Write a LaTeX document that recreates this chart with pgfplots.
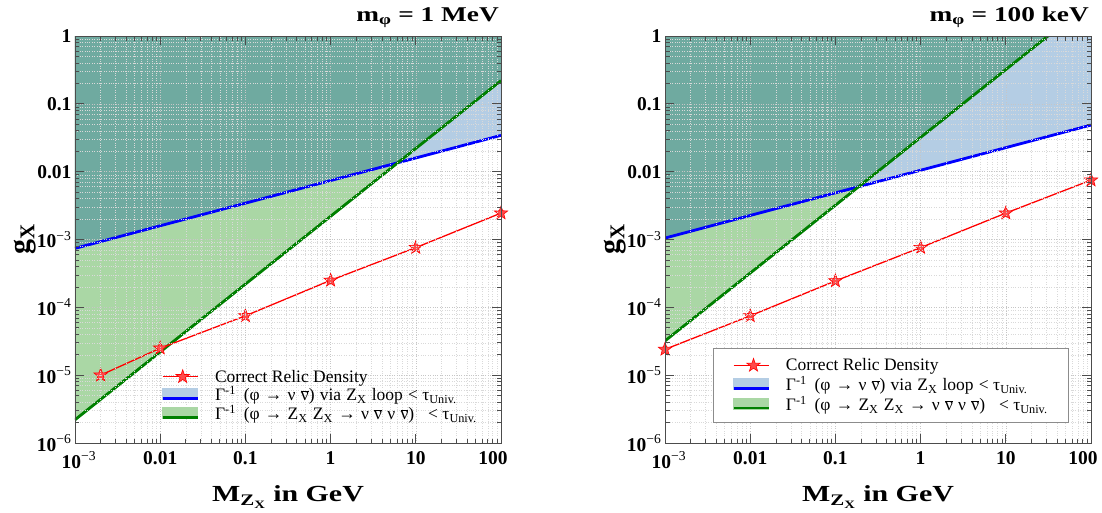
\documentclass[border=0pt]{standalone}
\usepackage{fontspec}
\setmainfont{Liberation Serif}
\newfontfamily\widefont[FakeStretch=1.3]{Liberation Serif}
\usepackage{pgfplots}
\pgfplotsset{compat=1.18}
\definecolor{lblue}{RGB}{180,205,228}
\definecolor{lgreen}{RGB}{170,215,165}
\definecolor{tealx}{RGB}{111,170,160}
\definecolor{dgreen}{RGB}{0,128,0}
\pgfdeclareplotmark{fstar}{%
  \pgfpathmoveto{\pgfpointpolar{90}{\pgfplotmarksize}}%
  \pgfpathlineto{\pgfpointpolar{126}{0.42\pgfplotmarksize}}%
  \pgfpathlineto{\pgfpointpolar{162}{\pgfplotmarksize}}%
  \pgfpathlineto{\pgfpointpolar{198}{0.42\pgfplotmarksize}}%
  \pgfpathlineto{\pgfpointpolar{234}{\pgfplotmarksize}}%
  \pgfpathlineto{\pgfpointpolar{270}{0.42\pgfplotmarksize}}%
  \pgfpathlineto{\pgfpointpolar{306}{\pgfplotmarksize}}%
  \pgfpathlineto{\pgfpointpolar{342}{0.42\pgfplotmarksize}}%
  \pgfpathlineto{\pgfpointpolar{18}{\pgfplotmarksize}}%
  \pgfpathlineto{\pgfpointpolar{54}{0.42\pgfplotmarksize}}%
  \pgfpathclose
  \pgfusepathqfillstroke}
\newcommand{\nub}{\ensuremath{\overline{\hbox{ν}}}}
\newcommand{\sm}[1]{\textbf{10}\textsuperscript{−#1}}
\newcommand{\gsp}{\hspace{0.3em}}
\pgfplotsset{
  every axis/.append style={
    xmode=log, ymode=log,
    scale only axis, width=426pt, height=407pt,
    xmin=1e-3, xmax=100, ymin=1e-6, ymax=1,
    xtick={1e-3,0.01,0.1,1,10,100},
    xticklabels={\makebox[0pt][c]{\hspace{8pt}\sm{3}},\textbf{0.01},\textbf{0.1},\textbf{1},\textbf{10},\makebox[0pt][c]{\textbf{100}\hspace{16pt}}},
    ytick={1e-6,1e-5,1e-4,1e-3,0.01,0.1,1},
    yticklabels={\sm{6},\sm{5},\sm{4},\sm{3},\textbf{0.01},\textbf{0.1},\textbf{1}},
    minor xtick={2e-3,3e-3,4e-3,5e-3,6e-3,7e-3,8e-3,9e-3,0.02,0.03,0.04,0.05,0.06,0.07,0.08,0.09,0.2,0.3,0.4,0.5,0.6,0.7,0.8,0.9,2,3,4,5,6,7,8,9,20,30,40,50,60,70,80,90},
    minor ytick={2e-6,3e-6,4e-6,5e-6,6e-6,7e-6,8e-6,9e-6,2e-5,3e-5,4e-5,5e-5,6e-5,7e-5,8e-5,9e-5,2e-4,3e-4,4e-4,5e-4,6e-4,7e-4,8e-4,9e-4,2e-3,3e-3,4e-3,5e-3,6e-3,7e-3,8e-3,9e-3,0.02,0.03,0.04,0.05,0.06,0.07,0.08,0.09,0.2,0.3,0.4,0.5,0.6,0.7,0.8,0.9},
    grid=both,
    major grid style={dotted, gray!45, line width=0.6pt},
    minor grid style={dotted, gray!30, line width=0.5pt},
    axis on top,
    axis line style={black!70, line width=0.9pt},
    major tick length=9pt, minor tick length=4.5pt,
    tick style={black!70, line width=0.7pt},
    tick label style={font=\fontsize{19.5}{21}\selectfont},
    xticklabel style={yshift=-5pt},
    clip mode=individual,
    xlabel={\widefont\bfseries M\textsubscript{Z\textsubscript{X}} in GeV},
    xlabel style={font=\fontsize{23}{25}\selectfont, at={(axis description cs:0.5,-0.133)}, anchor=center},
    ylabel={\textbf{g\textsubscript{X}}},
    ylabel style={font=\fontsize{30}{32}\selectfont, at={(axis description cs:-0.118,0.5)}, anchor=center},
    title style={font=\fontsize{21}{23}\selectfont\widefont\bfseries, at={(axis description cs:1,1)}, anchor=south east, yshift=0pt, inner sep=2pt},
    legend cell align=left,
    legend style={font=\fontsize{17.5}{19}\selectfont, row sep=-1pt,
      /tikz/every odd column/.append style={column sep=14pt}},
  },
}
\newcommand{\legA}{Correct Relic Density}
\newcommand{\legB}{Γ\textsuperscript{-1}\hspace{0.45em}(φ\gsp→\gsp ν\gsp\nub)\gsp via\gsp Z\textsubscript{X}\gsp loop\gsp<\hspace{0.25em}τ\textsubscript{Univ.}}
\newcommand{\legC}{Γ\textsuperscript{-1}\hspace{0.45em}(φ\gsp→\gsp Z\textsubscript{X}\gsp Z\textsubscript{X}\gsp→\gsp ν\gsp\nub\gsp ν\gsp\nub)\hspace{0.8em}<\hspace{0.25em}τ\textsubscript{Univ.}}
\newcommand{\imgR}{\addlegendimage{legend image code/.code={\draw[red, line width=1.3pt] (0pt,0pt) -- (35pt,0pt); \draw[red, fill=red!70, line width=0.6pt] (20pt,7pt) -- (21.6pt,2.2pt) -- (26.7pt,2.2pt) -- (22.6pt,-0.9pt) -- (24.1pt,-5.7pt) -- (20pt,-2.8pt) -- (15.9pt,-5.7pt) -- (17.4pt,-0.9pt) -- (13.3pt,2.2pt) -- (18.4pt,2.2pt) -- cycle;}}}
\newcommand{\imgB}{\addlegendimage{legend image code/.code={\fill[lblue] (0pt,-5pt) rectangle (35pt,6pt); \draw[blue, line width=2.8pt] (0pt,-4pt) -- (35pt,-4pt);}}}
\newcommand{\imgG}{\addlegendimage{legend image code/.code={\fill[lgreen] (0pt,-5pt) rectangle (35pt,6pt); \draw[dgreen, line width=2.8pt] (0pt,-4pt) -- (35pt,-4pt);}}}
\begin{document}
\begin{tikzpicture}
\useasboundingbox (0pt,0pt) rectangle (1102pt,512pt);
% ---------------- left panel ----------------
\begin{axis}[at={(75pt,69pt)}, anchor=south west,
  title={m\textsubscript{φ} = 1 MeV},
  legend style={at={(axis description cs:0.195,0.19)}, anchor=north west, draw=none, fill=none}]
\addplot[fill=lgreen, draw=none, forget plot] coordinates {(1e-3,2.2e-6) (100,0.22) (100,1) (1e-3,1)} \closedcycle;
\addplot[fill=lblue, draw=none, forget plot] coordinates {(1e-3,7.4e-4) (100,0.0343) (100,1) (1e-3,1)} \closedcycle;
\addplot[fill=tealx, draw=none, forget plot] coordinates {(1e-3,7.4e-4) (6.17,0.01357) (100,0.22) (100,1) (1e-3,1)} \closedcycle;
\addplot[blue, line width=2.8pt, forget plot] coordinates {(1e-3,7.4e-4) (100,0.0343)};
\addplot[dgreen, line width=2.8pt, forget plot] coordinates {(1e-3,2.2e-6) (100,0.22)};
\addplot[red, line width=1.3pt, mark=fstar, mark size=7pt, mark options={fill=red!70, line width=0.6pt}, forget plot]
  coordinates {(2e-3,1.0e-5) (0.01,2.5e-5) (0.1,7.5e-5) (1,2.5e-4) (10,7.6e-4) (100,2.45e-3)};
\imgR\addlegendentry{\legA}
\imgB\addlegendentry{\legB}
\imgG\addlegendentry{\legC}
\end{axis}
% ---------------- right panel ----------------
\begin{axis}[at={(665pt,69pt)}, anchor=south west,
  title={m\textsubscript{φ} = 100 keV},
  legend style={at={(axis description cs:0.112,0.233)}, anchor=north west, draw=black!45, line width=0.8pt, fill=white, inner xsep=19pt, inner ysep=8pt, row sep=0pt}]
\addplot[fill=lgreen, draw=none, forget plot] coordinates {(1e-3,3.2e-5) (31.25,1) (1e-3,1)} \closedcycle;
\addplot[fill=lblue, draw=none, forget plot] coordinates {(1e-3,1.05e-3) (100,0.0487) (100,1) (1e-3,1)} \closedcycle;
\addplot[fill=tealx, draw=none, forget plot] coordinates {(1e-3,1.05e-3) (0.188,6.0e-3) (31.25,1) (1e-3,1)} \closedcycle;
\addplot[blue, line width=2.8pt, forget plot] coordinates {(1e-3,1.05e-3) (100,0.0487)};
\addplot[dgreen, line width=2.8pt, forget plot] coordinates {(1e-3,3.2e-5) (31.25,1)};
\addplot[red, line width=1.3pt, mark=fstar, mark size=7pt, mark options={fill=red!70, line width=0.6pt}, forget plot]
  coordinates {(1e-3,2.4e-5) (0.01,7.5e-5) (0.1,2.45e-4) (1,7.6e-4) (10,2.45e-3) (100,7.5e-3)};
\imgR\addlegendentry{\legA}
\imgB\addlegendentry{\legB}
\imgG\addlegendentry{\legC}
\end{axis}
\end{tikzpicture}
\end{document}
